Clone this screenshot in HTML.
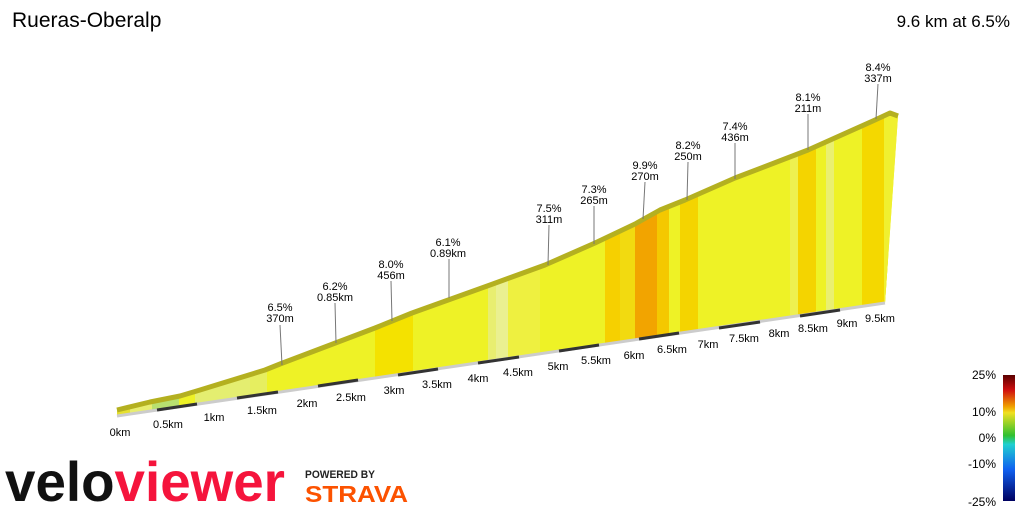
<!DOCTYPE html><html><head><style>body{margin:0;background:#fff;width:1024px;height:512px;overflow:hidden;font-family:"Liberation Sans",sans-serif}</style></head><body>
<svg width="1024" height="512" xmlns="http://www.w3.org/2000/svg" font-family="Liberation Sans, sans-serif">
<defs>
<clipPath id="b"><polygon points="117,410 150,402 180,396 200,390 265,370 280,364 375,328 412,313 490,285 545,265 595,243 635,224 660,210 685,200 735,178 808,150 875,120 890,113 898,116 885,303 117,416"/></clipPath>
<linearGradient id="lg" x1="0" y1="0" x2="0" y2="1">
<stop offset="0" stop-color="#5a0000"/><stop offset="0.12" stop-color="#d01010"/><stop offset="0.25" stop-color="#f0a000"/><stop offset="0.3" stop-color="#f0e020"/><stop offset="0.48" stop-color="#30c030"/><stop offset="0.55" stop-color="#20d0d0"/><stop offset="0.75" stop-color="#1060f0"/><stop offset="1" stop-color="#000060"/></linearGradient>
</defs>
<text x="12" y="27" font-size="21" fill="#000">Rueras-Oberalp</text>
<text x="1010" y="27" font-size="17" fill="#000" text-anchor="end">9.6 km at 6.5%</text>
<g clip-path="url(#b)">
<rect x="110" y="100" width="800" height="330" fill="#eef226"/>
<rect x="110" y="100" width="20" height="330" fill="#e6e030"/>
<rect x="130" y="100" width="22" height="330" fill="#e8ee70"/>
<rect x="152" y="100" width="27" height="330" fill="#b8e070"/>
<rect x="195" y="100" width="70" height="330" fill="#e4ee70"/>
<rect x="250" y="100" width="17" height="330" fill="#e6ee60"/>
<rect x="375" y="100" width="38" height="330" fill="#f4e200"/>
<rect x="488" y="100" width="8" height="330" fill="#e8ee70"/>
<rect x="496" y="100" width="12" height="330" fill="#eaf090"/>
<rect x="508" y="100" width="32" height="330" fill="#eef040"/>
<rect x="605" y="100" width="15" height="330" fill="#f6d000"/>
<rect x="620" y="100" width="15" height="330" fill="#f2da10"/>
<rect x="635" y="100" width="22" height="330" fill="#f2a400"/>
<rect x="657" y="100" width="12" height="330" fill="#f4c800"/>
<rect x="680" y="100" width="18" height="330" fill="#f4d400"/>
<rect x="790" y="100" width="8" height="330" fill="#eef050"/>
<rect x="798" y="100" width="18" height="330" fill="#f4d400"/>
<rect x="826" y="100" width="8" height="330" fill="#eaf070"/>
<rect x="862" y="100" width="26" height="330" fill="#f4d800"/>
<rect x="884" y="100" width="20" height="330" fill="#f0f030"/>
</g>
<polyline points="117,410 150,402 180,396 200,390 265,370 280,364 375,328 412,313 490,285 545,265 595,243 635,224 660,210 685,200 735,178 808,150 875,120 890,113 898,116" fill="none" stroke="#b4b020" stroke-width="5" stroke-linejoin="round"/>
<line x1="117" y1="416" x2="885" y2="303" stroke="#ccc" stroke-width="3"/>
<g stroke="#333" stroke-width="3">
<line x1="157" y1="410" x2="197" y2="404"/><line x1="237" y1="398" x2="278" y2="392"/><line x1="318" y1="386" x2="358" y2="380"/><line x1="398" y1="375" x2="438" y2="369"/><line x1="478" y1="363" x2="519" y2="357"/><line x1="559" y1="351" x2="599" y2="345"/><line x1="639" y1="339" x2="679" y2="333"/><line x1="719" y1="328" x2="760" y2="322"/><line x1="800" y1="316" x2="840" y2="310"/>
</g>
<g font-size="11" fill="#000" text-anchor="middle">
<text x="120" y="436">0km</text><text x="168" y="428">0.5km</text><text x="214" y="421">1km</text><text x="262" y="414">1.5km</text><text x="307" y="407">2km</text><text x="351" y="401">2.5km</text><text x="394" y="394">3km</text><text x="437" y="388">3.5km</text><text x="478" y="382">4km</text><text x="518" y="376">4.5km</text><text x="558" y="370">5km</text><text x="596" y="364">5.5km</text><text x="634" y="359">6km</text><text x="672" y="353">6.5km</text><text x="708" y="348">7km</text><text x="744" y="342">7.5km</text><text x="779" y="337">8km</text><text x="813" y="332">8.5km</text><text x="847" y="327">9km</text><text x="880" y="322">9.5km</text>
</g>
<g stroke="#777" stroke-width="1">
<line x1="280" y1="325" x2="282" y2="365"/><line x1="335" y1="303" x2="336" y2="343"/><line x1="391" y1="281" x2="392" y2="321"/><line x1="449" y1="259" x2="449" y2="298"/><line x1="549" y1="225" x2="548" y2="265"/><line x1="594" y1="206" x2="594" y2="244"/><line x1="645" y1="182" x2="643" y2="219"/><line x1="688" y1="162" x2="687" y2="200"/><line x1="735" y1="143" x2="735" y2="179"/><line x1="808" y1="114" x2="808" y2="150"/><line x1="878" y1="84" x2="876" y2="119"/>
</g>
<g font-size="11" fill="#000" text-anchor="middle">
<text x="280" y="311">6.5%</text><text x="280" y="322">370m</text>
<text x="335" y="290">6.2%</text><text x="335" y="301">0.85km</text>
<text x="391" y="268">8.0%</text><text x="391" y="279">456m</text>
<text x="448" y="246">6.1%</text><text x="448" y="257">0.89km</text>
<text x="549" y="212">7.5%</text><text x="549" y="223">311m</text>
<text x="594" y="193">7.3%</text><text x="594" y="204">265m</text>
<text x="645" y="169">9.9%</text><text x="645" y="180">270m</text>
<text x="688" y="149">8.2%</text><text x="688" y="160">250m</text>
<text x="735" y="130">7.4%</text><text x="735" y="141">436m</text>
<text x="808" y="101">8.1%</text><text x="808" y="112">211m</text>
<text x="878" y="71">8.4%</text><text x="878" y="82">337m</text>
</g>
<rect x="1003" y="375" width="12" height="126" fill="url(#lg)"/>
<g font-size="12" fill="#000" text-anchor="end">
<text x="996" y="379">25%</text><text x="996" y="416">10%</text><text x="996" y="442">0%</text><text x="996" y="468">-10%</text><text x="996" y="506">-25%</text>
</g>
<text x="5" y="501" font-size="56" font-weight="bold" textLength="280" lengthAdjust="spacingAndGlyphs" fill="#111">velo<tspan fill="#f5143c">viewer</tspan></text>
<text x="305" y="478" font-size="11" font-weight="bold" textLength="70" lengthAdjust="spacingAndGlyphs" fill="#222">POWERED BY</text>
<text x="305" y="502" font-size="23" font-weight="bold" textLength="103" lengthAdjust="spacingAndGlyphs" fill="#fc5200">STRAVA</text>
</svg>
</body></html>
